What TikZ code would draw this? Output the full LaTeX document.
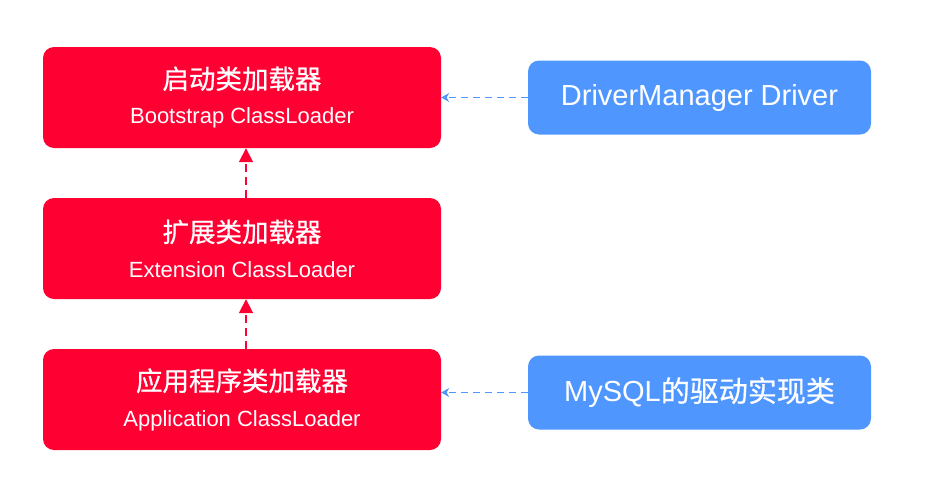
\documentclass[tikz,border=0pt]{standalone}
\usepackage{fontspec}
\setmainfont{Liberation Sans}
\newfontfamily\cjk[FakeBold=0.6]{Noto Sans CJK SC}
\usetikzlibrary{arrows.meta}
\definecolor{loaderred}{HTML}{FF0033}
\definecolor{driverblue}{HTML}{4F97FF}
\newcommand{\loadertext}[2]{{\cjk\fontsize{26.5pt}{30pt}\selectfont #1}\\[16pt]{\fontsize{22pt}{24pt}\selectfont #2}}
\begin{document}
\begin{tikzpicture}[
        x=1pt, y=-1pt,
        loader/.style = {
            shape=rectangle,
            rounded corners=11pt,
            fill=loaderred,
            text=white,
            align=center,
            minimum width=398pt,
            minimum height=101pt
        },
        driver/.style = {
            shape=rectangle,
            rounded corners=11pt,
            fill=driverblue,
            text=white,
            align=center,
            minimum width=343pt,
            minimum height=74pt,
            font=\fontsize{29pt}{32pt}\selectfont
        },
        delegate/.style={draw=loaderred, line width=1.8pt, dash pattern=on 8pt off 5pt, -{Triangle[length=14pt,width=14pt]}},
        uses/.style={draw=driverblue, line width=1pt, dash pattern=on 7pt off 5pt, -{Stealth[length=8pt,width=9pt]}}
    ]
    \useasboundingbox (0,0) rectangle (928,498);

    % CARREGADORES
    \node[loader] (boot) at (242,97.5) {\loadertext{启动类加载器}{Bootstrap ClassLoader}};
    \node[loader] (ext) at (242,248.5) {\loadertext{扩展类加载器}{Extension ClassLoader}};
    \node[loader] (app) at (242,399.5) {\loadertext{应用程序类加载器}{Application ClassLoader}};

    % DRIVERS
    \node[driver] (manager) at (699.5,97.5) {DriverManager Driver};
    \node[driver] (mysql) at (699.5,392.5) {MySQL{\cjk 的驱动实现类}};

    % SETAS
    \draw[delegate] ([xshift=4pt]ext.north) -- ([xshift=4pt]boot.south);
    \draw[delegate] ([xshift=4pt]app.north) -- ([xshift=4pt]ext.south);
    \draw[uses] (manager.west) -- (manager.west -| boot.east);
    \draw[uses] (mysql.west) -- (mysql.west -| app.east);
\end{tikzpicture}
\end{document}
